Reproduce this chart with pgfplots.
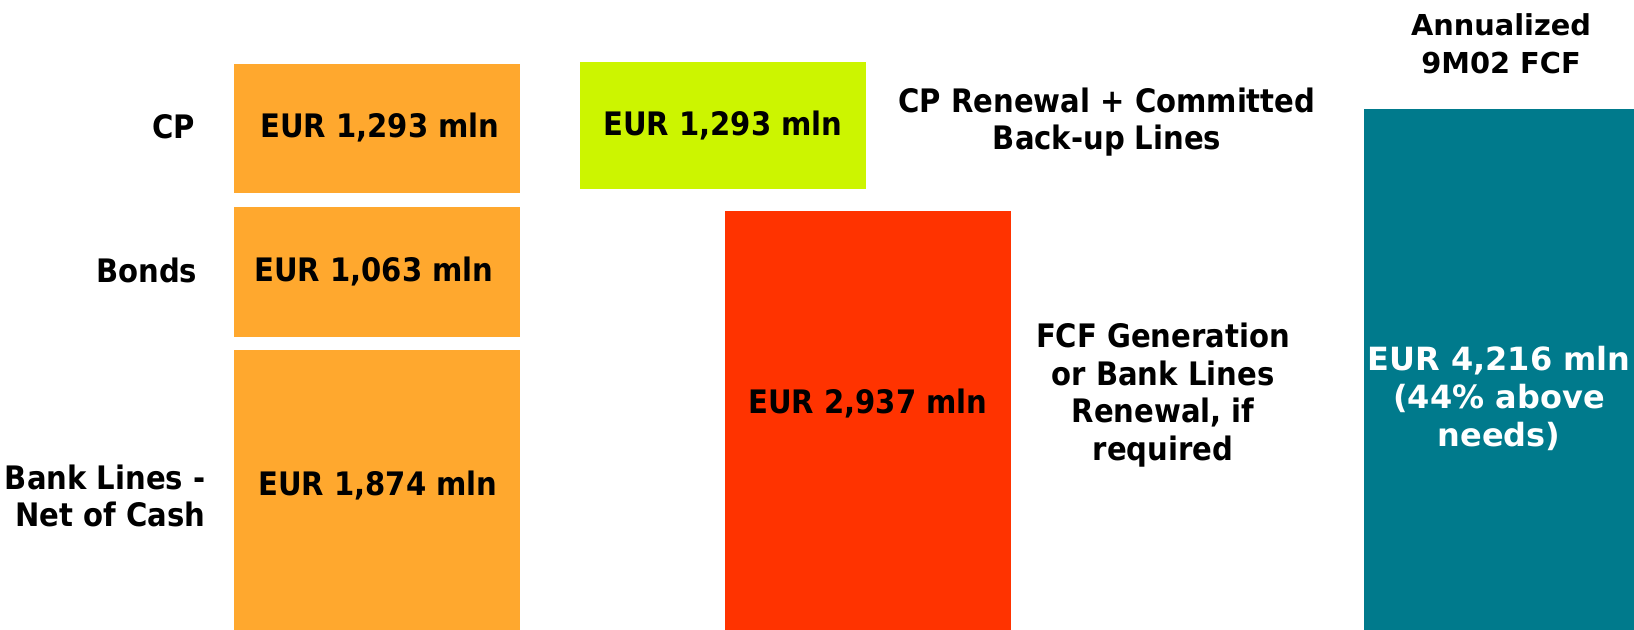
\documentclass[border=0pt]{standalone}
\usepackage{fontspec}
\setmainfont{DejaVu Sans Condensed}
\newfontfamily\verd{DejaVu Sans}
\usepackage{pgfplots}
\pgfplotsset{compat=1.18}

\definecolor{cporange}{RGB}{255,168,46}
\definecolor{cpgreen}{RGB}{204,245,0}
\definecolor{fcfred}{RGB}{255,51,0}
\definecolor{fcfteal}{RGB}{0,122,140}

\begin{document}
\begin{tikzpicture}[
    lbl/.style={font=\fontsize{9.2}{10.7}\selectfont\bfseries, align=center, inner sep=0pt},
    wlbl/.style={font=\verd\fontsize{8.2}{10.7}\selectfont\bfseries, align=center, inner sep=0pt}
  ]
  \begin{axis}[
      width=16.34cm, height=6.3cm, scale only axis,
      hide axis, clip=false,
      xmin=0, xmax=1634, ymin=0, ymax=630, y dir=reverse
    ]
    \path (axis cs:0,0) rectangle (axis cs:1634,630);
    % left column: current funding
    \addplot[fill=cporange, draw=none] coordinates {(234,64) (520,64) (520,193) (234,193)};
    \addplot[fill=cporange, draw=none] coordinates {(234,207) (520,207) (520,337) (234,337)};
    \addplot[fill=cporange, draw=none] coordinates {(234,350) (520,350) (520,630) (234,630)};
    % middle: coverage
    \addplot[fill=cpgreen, draw=none] coordinates {(580,62) (866,62) (866,189) (580,189)};
    \addplot[fill=fcfred, draw=none] coordinates {(725,211) (1011,211) (1011,630) (725,630)};
    % right: annualized FCF
    \addplot[fill=fcfteal, draw=none] coordinates {(1364,109) (1634,109) (1634,630) (1364,630)};

    \node[lbl, anchor=east] at (axis cs:196,127) {CP};
    \node[lbl, anchor=east] at (axis cs:198,270) {Bonds};
    \node[lbl, anchor=east, align=right] at (axis cs:206,496) {Bank Lines -\\Net of Cash};

    \node[lbl] at (axis cs:380,128) {EUR 1,293 mln};
    \node[lbl] at (axis cs:374,272) {EUR 1,063 mln};
    \node[lbl] at (axis cs:378,486) {EUR 1,874 mln};
    \node[lbl] at (axis cs:723,126) {EUR 1,293 mln};
    \node[lbl] at (axis cs:868,404) {EUR 2,937 mln};

    \node[lbl] at (axis cs:1107,122) {CP Renewal + Committed\\Back-up Lines};
    \node[lbl] at (axis cs:1163,395) {FCF Generation\\or Bank Lines\\Renewal, if\\required};

    \node[wlbl] at (axis cs:1501,44) {Annualized\\9M02 FCF};
    \node[wlbl, font=\verd\fontsize{9.1}{10.8}\selectfont\bfseries, text=white] at (axis cs:1499,398) {EUR 4,216 mln\\(44\% above\\needs)};
  \end{axis}
  \pgfresetboundingbox
  \path (0,0) rectangle (16.34cm,6.3cm);
\end{tikzpicture}
\end{document}
